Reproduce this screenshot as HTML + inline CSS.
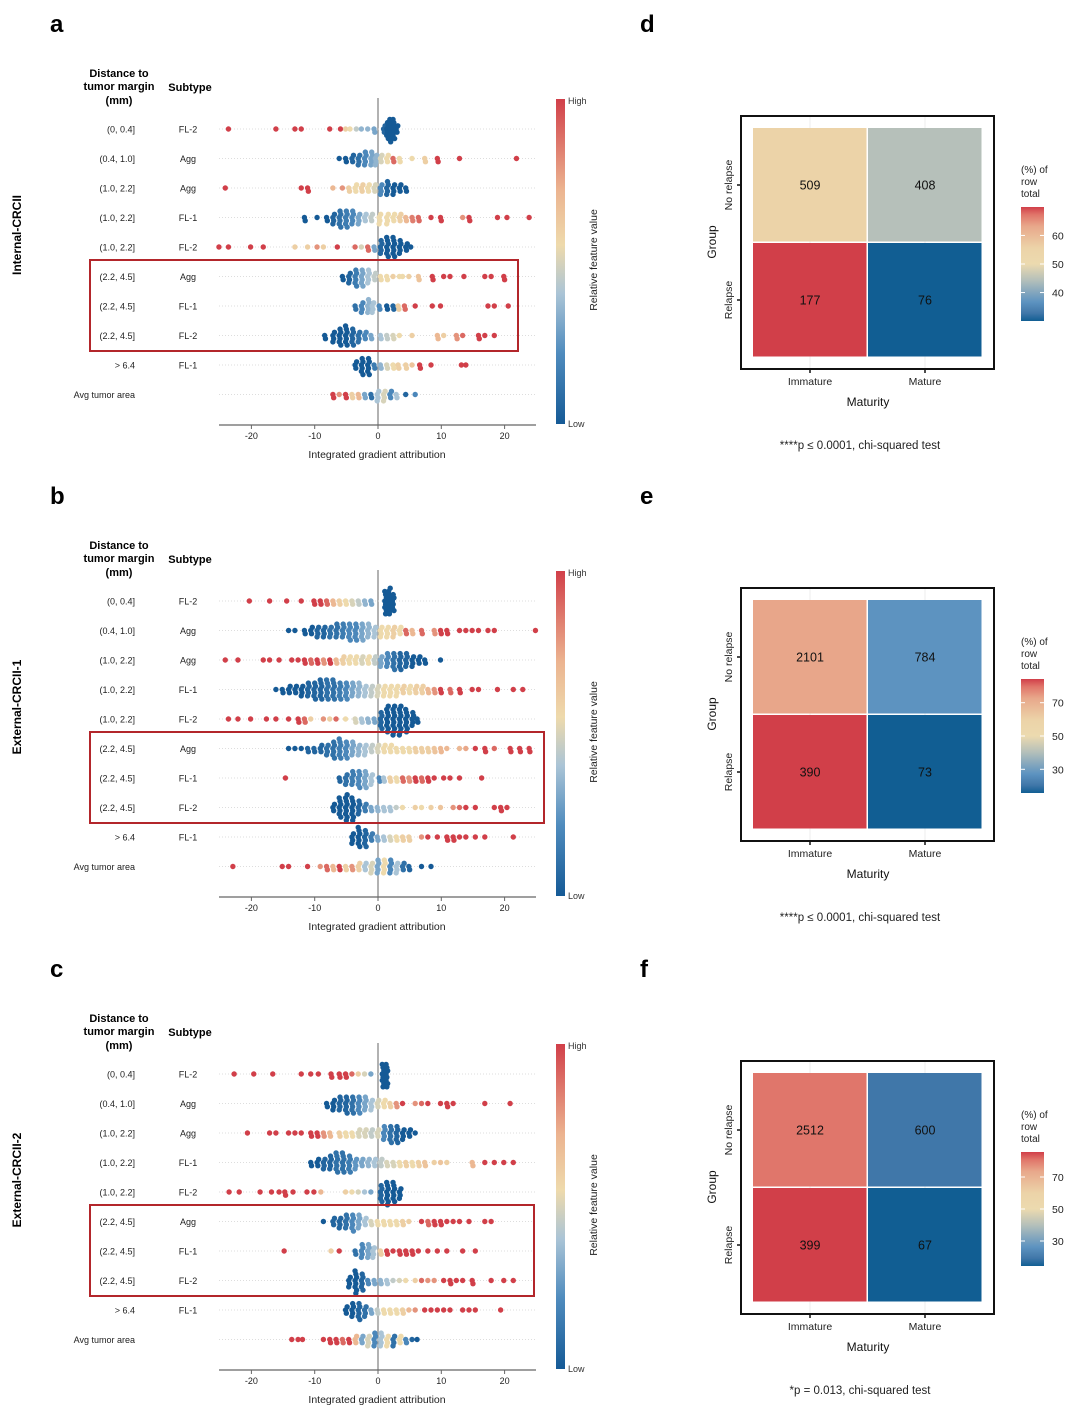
<!DOCTYPE html>
<html><head><meta charset="utf-8">
<style>
html,body{margin:0;padding:0;background:#fff;}
svg{display:block;font-family:"Liberation Sans",Arial,sans-serif;}
</style></head>
<body>
<svg id="fig" width="1080" height="1412" viewBox="0 0 1080 1412"></svg>
<script>
// ---------- Beeswarm data: each row = [attribution x, feature value 0..1, count]
const rowDist = ["(0, 0.4]","(0.4, 1.0]","(1.0, 2.2]","(1.0, 2.2]","(1.0, 2.2]","(2.2, 4.5]","(2.2, 4.5]","(2.2, 4.5]","> 6.4","Avg tumor area"];
const rowSub = ["FL-2","Agg","Agg","FL-1","FL-2","Agg","FL-1","FL-2","FL-1",""];
const xTicks = [-20,-10,0,10,20];
const cohortNames = ["Internal-CRCII","External-CRCII-1","External-CRCII-2"];
const panelLetters = ["a","b","c"];
const swarmA = [
[[-23.5,1,1],[-16,1,1],[-13,1,1],[-12,1,1],[-7.5,1,1],[-5.8,1,1],[-5,0.6,1],[-4.3,0.55,1],[-3.3,0.45,1],[-2.5,0.35,1],[-1.5,0.35,1],[-0.5,0.3,2],[1,0.05,3],[1.5,0,6],[2,0,8],[2.5,0,7],[3,0,3]],
[[-6,0,1],[-5,0,2],[-4,0.05,3],[-3,0.1,4],[-2,0.2,5],[-1,0.3,5],[-0.3,0.35,4],[0.5,0.5,3],[1.5,0.55,3],[2.5,0.9,2],[3.5,0.55,2],[5.5,0.55,1],[7.5,0.6,2],[9.5,1,2],[13,1,1],[22,1,1]],
[[-24,1,1],[-12,1,1],[-11,1,2],[-7,0.7,1],[-5.5,0.8,1],[-4.5,0.6,2],[-3.5,0.55,3],[-2.5,0.6,3],[-1.5,0.55,3],[-0.5,0.5,3],[0.5,0.2,4],[1.5,0.05,5],[2.5,0,4],[3.5,0,3],[4.5,0,2]],
[[-11.5,0,2],[-9.5,0,1],[-8,0,2],[-7,0.05,4],[-6,0.1,6],[-5,0.15,6],[-4,0.2,5],[-3,0.3,4],[-2,0.4,3],[-1,0.45,3],[0.3,0.55,4],[1.5,0.55,4],[2.5,0.55,3],[3.5,0.6,3],[4.5,0.7,2],[5.5,0.85,2],[6.5,0.9,2],[8.5,1,1],[10,1,2],[13.5,0.8,1],[14.5,1,2],[19,1,1],[20.5,1,1],[24,1,1]],
[[-25,1,1],[-23.5,1,1],[-20,1,1],[-18,1,1],[-13,0.6,1],[-11,0.6,1],[-9.5,0.8,1],[-8.5,0.6,1],[-6.3,1,1],[-3.5,0.9,1],[-2.5,0.5,1],[-1.5,0.9,2],[-0.5,0.3,2],[0.5,0.05,5],[1.5,0,7],[2.5,0,7],[3.5,0,5],[4.5,0,3],[5.3,0,1]],
[[-5.5,0,2],[-4.5,0.05,4],[-3.5,0.15,6],[-2.5,0.3,6],[-1.5,0.4,5],[-0.5,0.45,3],[0.5,0.55,2],[1.5,0.55,2],[2.5,0.6,1],[3.5,0.55,1],[4,0.55,1],[5,0.6,1],[6.5,0.65,2],[8.7,1,2],[10.5,1,1],[11.5,1,1],[13.7,1,1],[17,1,1],[18,1,1],[20,1,2]],
[[-3.5,0.1,2],[-2.5,0.2,4],[-1.5,0.35,5],[-0.8,0.4,4],[0.3,0.2,2],[1.5,0,2],[2.5,0.05,2],[3.3,0.6,2],[4.3,0.9,2],[6,1,1],[8.7,1,1],[10,1,1],[17.5,1,1],[18.5,1,1],[20.7,1,1]],
[[-8.3,0,2],[-7,0,4],[-6,0,6],[-5,0,7],[-4,0.05,6],[-3,0.1,4],[-2,0.2,3],[-1,0.3,2],[0.5,0.4,2],[1.5,0.45,2],[2.5,0.5,2],[3.5,0.55,1],[5.5,0.6,1],[9.5,0.7,2],[10.5,0.6,1],[12.5,0.8,2],[13.5,0.9,1],[16,1,2],[17,1,1],[18.5,1,1]],
[[-3.5,0,3],[-2.5,0,6],[-1.5,0,6],[-0.5,0.15,2],[0.5,0.35,2],[1.5,0.5,2],[2.5,0.55,2],[3.3,0.6,2],[4.5,0.6,2],[5.5,0.65,1],[6.7,1,2],[8.5,1,1],[13.3,1,1],[14,1,1]],
[[-7,1,2],[-6,0.8,1],[-5,1,2],[-4,0.6,2],[-3,0.7,2],[-2,0.3,2],[-1,0.1,2],[0,0.4,4],[1,0.5,4],[2,0.2,3],[3,0.4,2],[4.5,0.05,1],[6,0.2,1]]
];
const swarmB = [
[[-20.2,1,1],[-17,1,1],[-14.3,1,1],[-12,1,1],[-10,1,2],[-9,1,2],[-8,0.9,2],[-7,0.7,2],[-6,0.6,2],[-5,0.55,2],[-4,0.5,2],[-3,0.45,2],[-2,0.35,2],[-1,0.3,2],[1.2,0,8],[1.8,0,9],[2.4,0,6]],
[[-14,0,1],[-13,0,1],[-11.5,0,2],[-10.5,0,3],[-9.5,0.05,4],[-8.5,0.05,4],[-7.5,0.1,4],[-6.5,0.1,5],[-5.5,0.15,5],[-4.5,0.2,6],[-3.5,0.2,6],[-2.5,0.3,6],[-1.5,0.35,5],[-0.5,0.4,4],[0.5,0.55,4],[1.5,0.55,4],[2.5,0.6,4],[3.5,0.55,3],[4.5,0.9,2],[5.5,0.7,2],[7,0.9,2],[9,0.8,2],[10,1,2],[11,1,2],[13,1,1],[14,1,1],[15,1,1],[16,1,1],[17.5,1,1],[18.5,1,1],[25,1,1]],
[[-24,1,1],[-22,1,1],[-18,1,1],[-17,1,1],[-15.5,1,1],[-13.5,1,1],[-12.5,1,1],[-11.5,1,2],[-10.5,0.9,2],[-9.5,1,2],[-8.5,0.8,2],[-7.5,1,2],[-6.5,0.7,2],[-5.5,0.6,3],[-4.5,0.55,3],[-3.5,0.55,3],[-2.5,0.5,3],[-1.5,0.55,3],[-0.5,0.45,3],[0.5,0.3,4],[1.5,0.2,5],[2.5,0.1,6],[3.5,0.05,6],[4.5,0.05,5],[5.5,0,4],[6.5,0,3],[7.5,0,2],[10,0,1]],
[[-16,0,1],[-15,0,2],[-14,0,3],[-13,0,3],[-12,0,4],[-11,0.05,5],[-10,0.05,6],[-9,0.05,7],[-8,0.1,7],[-7,0.1,7],[-6,0.15,6],[-5,0.2,6],[-4,0.3,5],[-3,0.35,5],[-2,0.4,4],[-1,0.45,4],[0,0.5,4],[1,0.55,4],[2,0.55,4],[3,0.55,4],[4,0.6,3],[5,0.55,3],[6,0.6,3],[7,0.6,3],[8,0.7,2],[9,0.8,2],[10,1,2],[11.5,0.9,2],[13,1,2],[15,1,1],[16,1,1],[19,1,1],[21.5,1,1],[23,1,1]],
[[-23.5,1,1],[-22,1,1],[-20,1,1],[-17.5,1,1],[-16,1,1],[-14,1,1],[-12.5,1,2],[-11.5,0.9,2],[-10.5,0.6,1],[-8.5,0.8,1],[-7.5,0.6,1],[-6.5,0.9,1],[-5,0.55,1],[-3.5,0.5,2],[-2.5,0.4,2],[-1.5,0.35,2],[-0.5,0.3,2],[0.5,0.05,6],[1.5,0,9],[2.5,0,10],[3.5,0,10],[4.5,0,8],[5.5,0,5],[6.3,0,2]],
[[-14,0,1],[-13,0,1],[-12,0,1],[-11,0.05,2],[-10,0.05,2],[-9,0.05,3],[-8,0.1,4],[-7,0.1,6],[-6,0.15,7],[-5,0.2,6],[-4,0.3,5],[-3,0.35,4],[-2,0.4,4],[-1,0.45,3],[0,0.5,3],[1,0.55,3],[2,0.55,3],[3,0.55,2],[4,0.55,2],[5,0.55,2],[6,0.6,2],[7,0.6,2],[8,0.6,2],[9,0.65,2],[10,0.7,2],[11,0.7,1],[13,0.7,1],[14,0.75,1],[15.5,1,1],[17,1,2],[18.5,0.9,1],[21,1,2],[22.5,1,2],[24,1,2]],
[[-14.5,1,1],[-6,0.05,2],[-5,0.1,4],[-4,0.15,5],[-3,0.2,6],[-2,0.3,6],[-1,0.4,4],[0.3,0.2,2],[1,0.4,2],[2,0.6,2],[3,0.55,2],[4,0.9,2],[5,0.8,2],[6,1,2],[7,0.9,2],[8,1,2],[9,1,1],[10.5,1,1],[11.5,1,1],[13,1,1],[16.5,1,1]],
[[-7,0,3],[-6,0,7],[-5,0,9],[-4,0,8],[-3,0.05,5],[-2,0.15,3],[-1,0.3,2],[0,0.35,2],[1,0.4,2],[2,0.4,2],[3,0.45,1],[4,0.55,1],[6,0.6,1],[7,0.55,1],[8.5,0.6,1],[10,0.65,1],[12,0.8,1],[13,0.9,1],[14,1,1],[15.5,1,1],[18.5,1,1],[19.5,1,2],[20.5,1,1]],
[[-4,0,4],[-3,0,7],[-2,0.05,6],[-1,0.15,3],[0,0.3,2],[1,0.4,2],[2,0.5,2],[3,0.55,2],[4,0.6,2],[5,0.6,2],[7,0.8,1],[8,1,1],[9.5,1,1],[11,1,2],[12,1,2],[13,1,1],[14,1,1],[15.5,1,1],[17,1,1],[21.5,1,1]],
[[-22.8,1,1],[-15,1,1],[-14,1,1],[-11,1,1],[-9,0.8,1],[-8,0.9,2],[-7,0.7,2],[-6,1,2],[-5,0.6,2],[-4,0.8,2],[-3,0.6,3],[-2,0.4,3],[-1,0.5,4],[0,0.3,5],[1,0.55,5],[2,0.2,5],[3,0.4,4],[4,0.1,3],[5,0.05,2],[7,0,1],[8.5,0,1]]
];
const swarmC = [
[[-22.6,1,1],[-19.5,1,1],[-16.5,1,1],[-12,1,1],[-10.5,1,1],[-9.3,1,1],[-7.3,1,2],[-6,1,2],[-5,1,2],[-4,0.9,1],[-3,0.6,1],[-2,0.5,1],[-1,0.3,1],[0.8,0,8],[1.4,0,8]],
[[-8,0,2],[-7,0,4],[-6,0.05,5],[-5,0.05,6],[-4,0.1,6],[-3,0.2,6],[-2,0.3,5],[-1,0.4,4],[0,0.5,3],[1,0.55,3],[2,0.6,2],[3,0.8,2],[4,1,1],[6,0.8,1],[7,0.9,1],[8,1,1],[10,1,1],[11,1,2],[12,1,1],[17,1,1],[21,1,1]],
[[-20.5,1,1],[-17,1,1],[-16,1,1],[-14,1,1],[-13,1,1],[-12,1,1],[-10.5,1,2],[-9.5,1,2],[-8.5,0.8,2],[-7.5,0.7,2],[-6,0.6,2],[-5,0.55,2],[-4,0.55,2],[-3,0.5,3],[-2,0.5,3],[-1,0.45,3],[0,0.5,3],[1,0.2,5],[2,0.1,6],[3,0.05,6],[4,0,4],[5,0,3],[6,0,1]],
[[-10.5,0,2],[-9.5,0,3],[-8.5,0.05,4],[-7.5,0.05,5],[-6.5,0.1,7],[-5.5,0.1,7],[-4.5,0.15,6],[-3.5,0.25,4],[-2.5,0.3,3],[-1.5,0.35,3],[-0.5,0.4,3],[0.5,0.45,3],[1.5,0.5,2],[2.5,0.5,2],[3.5,0.55,2],[4.5,0.6,2],[5.5,0.55,2],[6.5,0.6,2],[7.5,0.65,2],[9,0.6,1],[10,0.65,1],[11,0.6,1],[15,0.7,2],[17,1,1],[18.5,1,1],[20,1,1],[21.5,1,1]],
[[-23.4,1,1],[-21.8,1,1],[-18.5,1,1],[-16.7,1,1],[-15.5,1,1],[-14.6,1,2],[-13.3,1,1],[-11.1,1,1],[-10,1,1],[-8.9,0.7,1],[-5,0.6,1],[-4,0.55,1],[-3,0.5,1],[-2,0.4,1],[-1,0.3,1],[0.5,0.05,6],[1.5,0,8],[2.5,0,7],[3.5,0,4]],
[[-8.5,0,1],[-7,0.05,3],[-6,0.05,4],[-5,0.1,5],[-4,0.2,6],[-3,0.3,5],[-2,0.4,3],[-1,0.5,2],[0,0.55,2],[1,0.55,2],[2,0.55,2],[3,0.55,2],[4,0.6,2],[5,0.6,1],[7,1,1],[8,0.9,2],[9,1,2],[10,1,2],[11,1,1],[12,1,1],[13,1,1],[14.5,1,1],[17,1,1],[18,1,1]],
[[-14.7,1,1],[-7.3,0.6,1],[-6,1,1],[-3.5,0.1,2],[-2.5,0.2,5],[-1.5,0.3,5],[-0.7,0.4,4],[0.5,0.6,2],[1.5,1,2],[2.5,1,1],[3.5,1,2],[4.5,1,2],[5.5,1,2],[6.5,1,1],[8,1,1],[9.5,1,1],[11,1,1],[13.5,1,1],[15.5,1,1]],
[[-4.5,0,4],[-3.5,0,8],[-2.5,0.05,6],[-1.5,0.2,2],[-0.5,0.3,2],[0.5,0.35,2],[1.5,0.4,2],[2.5,0.45,1],[3.5,0.5,1],[4.5,0.55,1],[6,0.6,1],[7,0.9,1],[8,0.8,1],[9,0.8,1],[10.5,1,1],[11.5,1,2],[12.5,1,1],[13.5,1,1],[15,1,2],[18,1,1],[20,1,1],[21.5,1,1]],
[[-5,0,3],[-4,0,5],[-3,0.05,6],[-2,0.1,4],[-1,0.3,2],[0,0.45,2],[1,0.55,2],[2,0.55,2],[3,0.55,2],[4,0.6,2],[5,0.7,1],[6,0.8,1],[7.5,1,1],[8.5,1,1],[9.5,1,1],[10.5,1,1],[11.5,1,1],[13.5,1,1],[14.5,1,1],[15.5,1,1],[19.5,1,1]],
[[-13.5,1,1],[-12.5,1,1],[-11.8,1,1],[-8.5,1,1],[-7.5,1,2],[-6.5,1,2],[-5.5,0.9,2],[-4.5,1,2],[-3.5,0.7,3],[-2.5,0.3,3],[-1.5,0.5,4],[-0.5,0.2,5],[0.5,0.4,5],[1.5,0.55,4],[2.5,0.1,4],[3.5,0.55,3],[4.5,0.2,2],[5.5,0.05,1],[6.3,0,1]]
];
// ---------- Heatmap data
const hmGroups = ["No relapse","Relapse"];
const hmMaturity = ["Immature","Mature"];
const countsD = [[509,408],[177,76]];
const countsE = [[2101,784],[390,73]];
const countsF = [[2512,600],[399,67]];
const legendTicksD = [60,50,40];
const legendTicksEF = [70,50,30];
const pTexts = ["****p \u2264 0.0001, chi-squared test","****p \u2264 0.0001, chi-squared test","*p = 0.013, chi-squared test"];

const NS="http://www.w3.org/2000/svg";
const svg=document.getElementById('fig');
function el(tag,attrs,parent){const e=document.createElementNS(NS,tag);for(const k in attrs)e.setAttribute(k,attrs[k]);(parent||svg).appendChild(e);return e;}
function txt(s,attrs,parent){const e=el('text',attrs,parent);e.textContent=s;return e;}

// colour scales
const stops=[[0,[21,90,150]],[0.22,[80,140,190]],[0.4,[170,196,214]],[0.55,[238,218,172]],[0.72,[236,180,144]],[1,[209,63,73]]];
const hmStops=[[0,[17,94,147]],[0.07,[65,119,169]],[0.167,[93,147,192]],[0.36,[181,192,186]],[0.5,[236,218,175]],[0.64,[236,211,168]],[0.83,[232,168,139]],[0.933,[224,117,106]],[1,[209,63,73]]];
function interp(st,t){t=Math.max(0,Math.min(1,t));for(let i=1;i<st.length;i++){if(t<=st[i][0]){const a=st[i-1],b=st[i];const f=(t-a[0])/(b[0]-a[0]);const c=a[1].map((v,j)=>Math.round(v+(b[1][j]-v)*f));return `rgb(${c[0]},${c[1]},${c[2]})`;}}return 'rgb(209,63,73)';}
const cscale=t=>interp(stops,t);
const hscale=t=>interp(hmStops,t);

const defs=el('defs',{});
const lg=el('linearGradient',{id:'cbar',x1:0,y1:1,x2:0,y2:0},defs);
stops.forEach(s=>el('stop',{offset:s[0],'stop-color':cscale(s[0])},lg));
const lg2=el('linearGradient',{id:'hbar',x1:0,y1:1,x2:0,y2:0},defs);
hmStops.forEach(s=>el('stop',{offset:s[0],'stop-color':hscale(s[0])},lg2));

// ---------- Beeswarm panels
const swarms=[swarmA,swarmB,swarmC];
const boxW=[428,454,444];
swarms.forEach((rows,p)=>{
  const oy=p===0?0:(p===1?472:945);
  const g=el('g',{});
  
  
  const xs=v=>378+v*6.33;
  const rowY=i=>129+oy+i*29.5;
  txt(panelLetters[p],{x:50,y:32+oy,'font-size':24,'font-weight':'bold'},g);
  const h=el('g',{'font-size':11,'font-weight':'bold','text-anchor':'middle'},g);
  
  txt('Distance to',{x:119,y:77+oy},h);txt('tumor margin',{x:119,y:90+oy},h);txt('(mm)',{x:119,y:104+oy},h);
  txt('Subtype',{x:190,y:91+oy},h);
  const cl=txt(cohortNames[p],{x:0,y:0,'font-size':12,'font-weight':'bold','text-anchor':'middle',transform:`translate(21,${235+oy}) rotate(-90)`},g);
  
  el('line',{x1:xs(0),x2:xs(0),y1:98+oy,y2:425+oy,stroke:'#999','stroke-width':1.5},g);
  rows.forEach((row,i)=>{
    const y=rowY(i);
    const d=txt(rowDist[i],{x:135,y:y+3.5,'font-size':9,'text-anchor':'end',fill:'#222'},g);
    
    if(rowSub[i]){const s=txt(rowSub[i],{x:188,y:y+3.5,'font-size':9,'text-anchor':'middle',fill:'#222'},g);
      }
    el('line',{x1:219,x2:536,y1:y,y2:y,stroke:'#ddd','stroke-width':1,'stroke-dasharray':'1,2'},g);
    row.forEach(pt=>{
      for(let k=0;k<pt[2];k++){
        const off=(k===0?0:(k%2?1:-1)*Math.ceil(k/2)*3.2);
        const c=el('circle',{cx:xs(pt[0])+((k%3)-1)*0.8,cy:y+off,r:2.7,fill:cscale(pt[1])},g);
        
        
      }
    });
  });
  const hb=el('rect',{x:90,y:260+oy,width:boxW[p],height:91,fill:'none',stroke:'#b3262b','stroke-width':2},g);
  
  const ax=el('g',{},g);
  el('line',{x1:219,x2:536,y1:425+oy,y2:425+oy,stroke:'#666','stroke-width':1.2},ax);
  xTicks.forEach(t=>{el('line',{x1:xs(t),x2:xs(t),y1:425+oy,y2:429+oy,stroke:'#666'},ax);
    txt(String(t),{x:xs(t),y:439+oy,'font-size':9,'text-anchor':'middle',fill:'#222'},ax);});
  const xt=txt('Integrated gradient attribution',{x:377,y:458+oy,'font-size':10.5,'text-anchor':'middle',fill:'#222'},g);
  
  const cb=el('rect',{x:556,y:99+oy,width:9,height:325,fill:'url(#cbar)'},g);
  
  txt('High',{x:568,y:104+oy,'font-size':9,fill:'#333'},g);
  txt('Low',{x:568,y:427+oy,'font-size':9,fill:'#333'},g);
  const ct=txt('Relative feature value',{x:0,y:0,'font-size':10.5,'text-anchor':'middle',fill:'#222',transform:`translate(597,${260+oy}) rotate(-90)`},g);
  
});

// ---------- Heatmaps
const hms=[countsD,countsE,countsF];
const hmLetters=['d','e','f'];
hms.forEach((counts,p)=>{
  const oy=p===0?0:(p===1?472:945);
  const g=el('g',{});
  
  
  txt(hmLetters[p],{x:640,y:(p===2?977:32+oy),'font-size':24,'font-weight':'bold'},g);
  const pct=counts.map(r=>{const s=r[0]+r[1];return r.map(v=>v/s*100);});
  const flat=pct.flat();const mn=Math.min(...flat),mx=Math.max(...flat);
  const tscale=v=>(v-mn)/(mx-mn);
  el('rect',{x:741,y:116+oy,width:253,height:253,fill:'#fff',stroke:'#111','stroke-width':2},g);
  const cx=[810,925],cy=[185,300];
  el('line',{x1:cx[0],x2:cx[0],y1:117+oy,y2:368+oy,stroke:'#eee'},g);
  el('line',{x1:cx[1],x2:cx[1],y1:117+oy,y2:368+oy,stroke:'#eee'},g);
  counts.forEach((r,i)=>r.forEach((v,j)=>{
    const c=el('rect',{x:753+j*115,y:128+oy+i*115,width:113.5,height:113.5,fill:hscale(tscale(pct[i][j]))},g);
    
    const t=txt(String(v),{x:cx[j],y:cy[i]+oy+4.5,'font-size':12.5,'text-anchor':'middle',fill:'#111'},g);
    
  }));
  hmMaturity.forEach((m,j)=>{el('line',{x1:cx[j],x2:cx[j],y1:369+oy,y2:373+oy,stroke:'#111','stroke-width':1.5},g);
    txt(m,{x:cx[j],y:385+oy,'font-size':10.5,'text-anchor':'middle',fill:'#222'},g);});
  hmGroups.forEach((m,i)=>{el('line',{x1:737,x2:741,y1:cy[i]+oy,y2:cy[i]+oy,stroke:'#111','stroke-width':1.5},g);
    txt(m,{x:0,y:0,'font-size':10.5,'text-anchor':'middle',fill:'#222',transform:`translate(732,${cy[i]+oy}) rotate(-90)`},g);});
  txt('Maturity',{x:868,y:406+oy,'font-size':12,'text-anchor':'middle',fill:'#111'},g);
  txt('Group',{x:0,y:0,'font-size':12,'text-anchor':'middle',fill:'#111',transform:`translate(716,${242+oy}) rotate(-90)`},g);
  const lgG=el('g',{},g);
  txt('(%) of',{x:1021,y:173+oy,'font-size':10,fill:'#222'},lgG);
  txt('row',{x:1021,y:185+oy,'font-size':10,fill:'#222'},lgG);
  txt('total',{x:1021,y:197+oy,'font-size':10,fill:'#222'},lgG);
  const ly0=207+oy,lh=114;
  el('rect',{x:1021,y:ly0,width:23,height:lh,fill:'url(#hbar)'},lgG);
  const ticks=p===0?legendTicksD:legendTicksEF;
  ticks.forEach(t=>{const yy=ly0+lh*(1-tscale(t));
    el('line',{x1:1021,x2:1025,y1:yy,y2:yy,stroke:'#fff'},lgG);el('line',{x1:1040,x2:1044,y1:yy,y2:yy,stroke:'#fff'},lgG);
    txt(String(t),{x:1052,y:yy+4,'font-size':10.5,fill:'#222'},lgG);});
  txt(pTexts[p],{x:860,y:449+oy,'font-size':11.5,'text-anchor':'middle',fill:'#222'},g);
});
</script>
</body></html>
